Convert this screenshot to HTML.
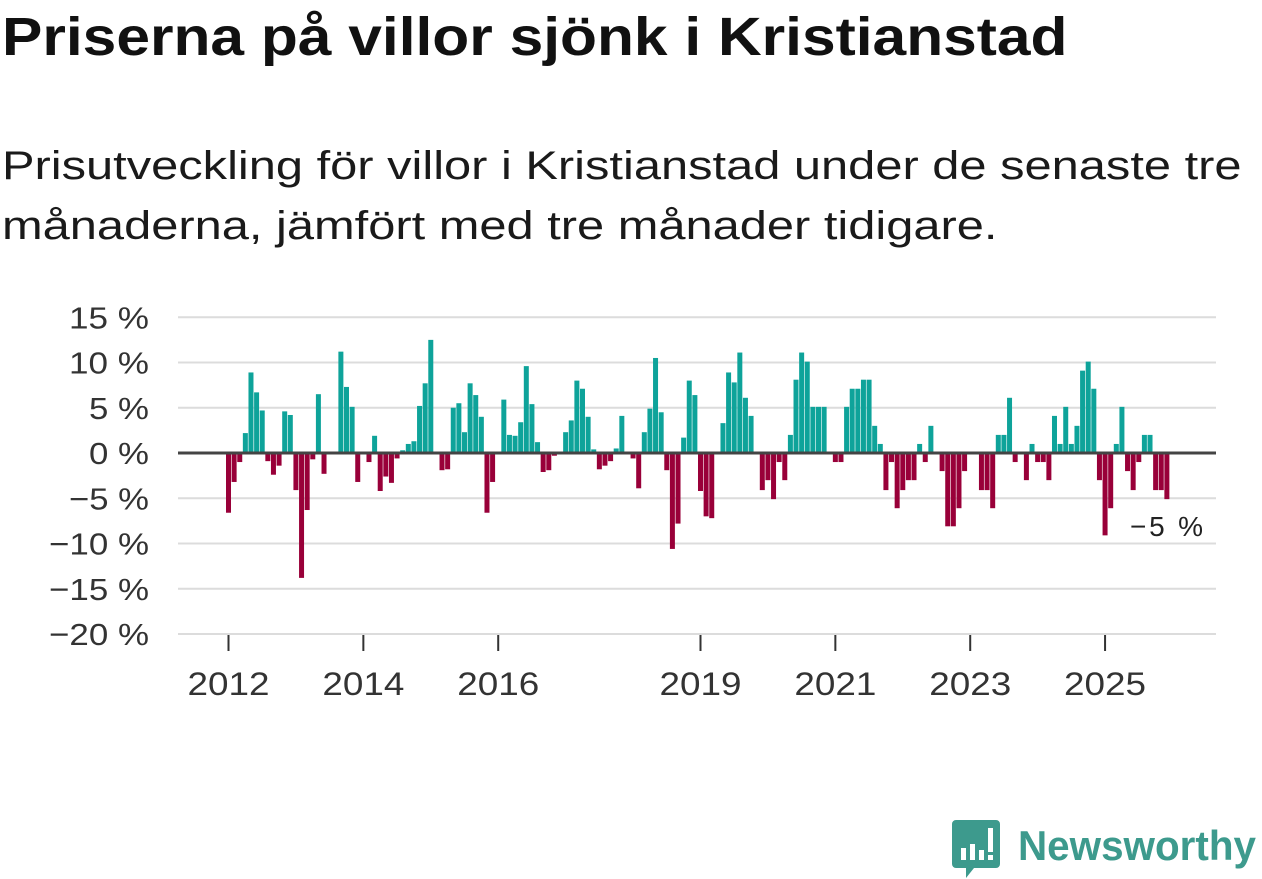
<!DOCTYPE html>
<html><head><meta charset="utf-8">
<style>
html,body{margin:0;padding:0;background:#fff;width:1262px;height:879px;overflow:hidden;font-family:"Liberation Sans",sans-serif;}
#title{position:absolute;left:2px;top:6px;font-size:54px;font-weight:bold;color:#111;margin:0;white-space:nowrap;transform:scaleX(1.12);transform-origin:left top;}
#subtitle{position:absolute;left:2px;top:136px;font-size:40px;line-height:60px;color:#1a1a1a;margin:0;white-space:nowrap;transform:scaleX(1.22);transform-origin:left top;}
svg{position:absolute;left:0;top:0;}
</style></head><body>
<h1 id="title">Priserna på villor sjönk i Kristianstad</h1>
<p id="subtitle">Prisutveckling för villor i Kristianstad under de senaste tre<br>månaderna, jämfört med tre månader tidigare.</p>
<svg id="chart" width="1262" height="879">
  <g id="grid"></g>
  <g id="bars"></g>
  <g id="yaxis"></g>
  <g id="xaxis"></g>
  <text x="1130" y="536" font-size="28" textLength="73" fill="#222" font-family="Liberation Sans, sans-serif">−5 %</text>
  <g>
    <path d="M956 820 h40 a4 4 0 0 1 4 4 v40 a4 4 0 0 1 -4 4 h-22 l-8 10 v-10 h-10 a4 4 0 0 1 -4 -4 v-40 a4 4 0 0 1 4 -4z" fill="#3d9a8d"/>
    <rect x="961" y="848" width="5" height="12" fill="#fff"/>
    <rect x="970" y="844" width="5" height="16" fill="#fff"/>
    <rect x="979" y="850" width="5" height="10" fill="#fff"/>
    <rect x="988" y="828" width="5" height="24" fill="#fff"/>
    <rect x="988" y="855" width="5" height="5" fill="#fff"/>
    <text x="1018" y="860" font-size="42" font-weight="bold" textLength="238" lengthAdjust="spacingAndGlyphs" fill="#3d9a8d" font-family="Liberation Sans, sans-serif">Newsworthy</text>
  </g>
</svg>
<script>
const yTicks = [15, 10, 5, 0, -5, -10, -15, -20];
const xTickYears = [2012, 2014, 2016, 2019, 2021, 2023, 2025];
const startYear = 2012;
const values = [
-6.6,-3.2,-1,2.2,8.9,6.7,4.7,-0.9,-2.4,-1.4,4.6,4.2,
-4.1,-13.8,-6.3,-0.7,6.5,-2.3,0,0,11.2,7.3,5.1,-3.2,
0,-1,1.9,-4.2,-2.6,-3.3,-0.6,0.3,1,1.3,5.2,7.7,
12.5,0,-1.9,-1.8,5,5.5,2.3,7.7,
6.4,4,-6.6,-3.2,0,5.9,2,1.9,3.4,9.6,5.4,1.2,-2.1,-1.9,-0.3,0,2.3,3.6,8,7.1,4,0.4,-1.8,-1.4,-0.9,0.5,4.1,0,-0.6,-3.9,2.3,4.9,10.5,4.5,-1.9,-10.6,-7.8,1.7,8,6.4,-4.2,-7,-7.2,
0,3.3,8.9,7.8,11.1,6.1,4.1,0,-4.1,-3,-5.1,-1,-3,2,8.1,11.1,10.1,5.1,5.1,5.1,0,-1,-1,5.1,7.1,7.1,8.1,8.1,3,1,-4.1,-1,-6.1,-4.1,-3,-3,1,-1,3,0,-2,-8.1,
-8.1,-6.1,-2,0,0,-4.1,-4.1,-6.1,2,2,6.1,-1,0,-3,1,-1,-1,-3,4.1,1,5.1,1,3,9.1,10.1,7.1,-3,-9.1,-6.1,1,5.1,-2,-4.1,-1,2,2,-4.1,-4.1,-5.1
];
const NS = "http://www.w3.org/2000/svg";
const plotL = 178, plotR = 1216;
const y = v => 453 - v * 9.05;
const x = i => 228.5 + i * 5.619;
const grid = document.getElementById('grid');
const yaxis = document.getElementById('yaxis');
yTicks.forEach(t => {
  if (t !== 0) {
    const l = document.createElementNS(NS, 'line');
    l.setAttribute('x1', plotL); l.setAttribute('x2', plotR);
    l.setAttribute('y1', y(t)); l.setAttribute('y2', y(t));
    l.setAttribute('stroke', '#dcdcdc'); l.setAttribute('stroke-width', '2');
    
    
    grid.appendChild(l);
  }
  const tx = document.createElementNS(NS, 'text');
  const label = (t < 0 ? '−' + Math.abs(t) : t) + ' %';
  tx.setAttribute('x', 149); tx.setAttribute('y', y(t) + 11);
  tx.setAttribute('text-anchor', 'end'); tx.setAttribute('font-size', '31');
  tx.setAttribute('fill', '#333'); tx.setAttribute('font-family', 'Liberation Sans, sans-serif');
  tx.setAttribute('textLength', label.length * 20);
  tx.setAttribute('lengthAdjust', 'spacingAndGlyphs');
  tx.textContent = label;
  
  
  yaxis.appendChild(tx);
});
const bars = document.getElementById('bars');
values.forEach((v, i) => {
  if (v === 0) return;
  const r = document.createElementNS(NS, 'rect');
  r.setAttribute('x', x(i) - 2.5); r.setAttribute('width', 5);
  r.setAttribute('y', Math.min(y(v), y(0))); r.setAttribute('height', Math.abs(y(v) - y(0)));
  r.setAttribute('fill', v > 0 ? '#0ea39a' : '#990039');
  
  
  bars.appendChild(r);
});
const zl = document.createElementNS(NS, 'line');
zl.setAttribute('x1', plotL); zl.setAttribute('x2', plotR);
zl.setAttribute('y1', y(0)); zl.setAttribute('y2', y(0));
zl.setAttribute('stroke', '#444'); zl.setAttribute('stroke-width', '3');


bars.appendChild(zl);
const xaxis = document.getElementById('xaxis');
xTickYears.forEach(yr => {
  const xi = x((yr - startYear) * 12);
  const tk = document.createElementNS(NS, 'line');
  tk.setAttribute('x1', xi); tk.setAttribute('x2', xi);
  tk.setAttribute('y1', 635); tk.setAttribute('y2', 651);
  tk.setAttribute('stroke', '#333'); tk.setAttribute('stroke-width', '2');
  
  
  xaxis.appendChild(tk);
  const tx = document.createElementNS(NS, 'text');
  tx.setAttribute('x', xi); tx.setAttribute('y', 695);
  tx.setAttribute('text-anchor', 'middle'); tx.setAttribute('font-size', '32');
  tx.setAttribute('fill', '#333'); tx.setAttribute('font-family', 'Liberation Sans, sans-serif');
  tx.setAttribute('textLength', '82');
  tx.setAttribute('lengthAdjust', 'spacingAndGlyphs');
  tx.textContent = yr;
  
  
  xaxis.appendChild(tx);
});
</script>
</body></html>
